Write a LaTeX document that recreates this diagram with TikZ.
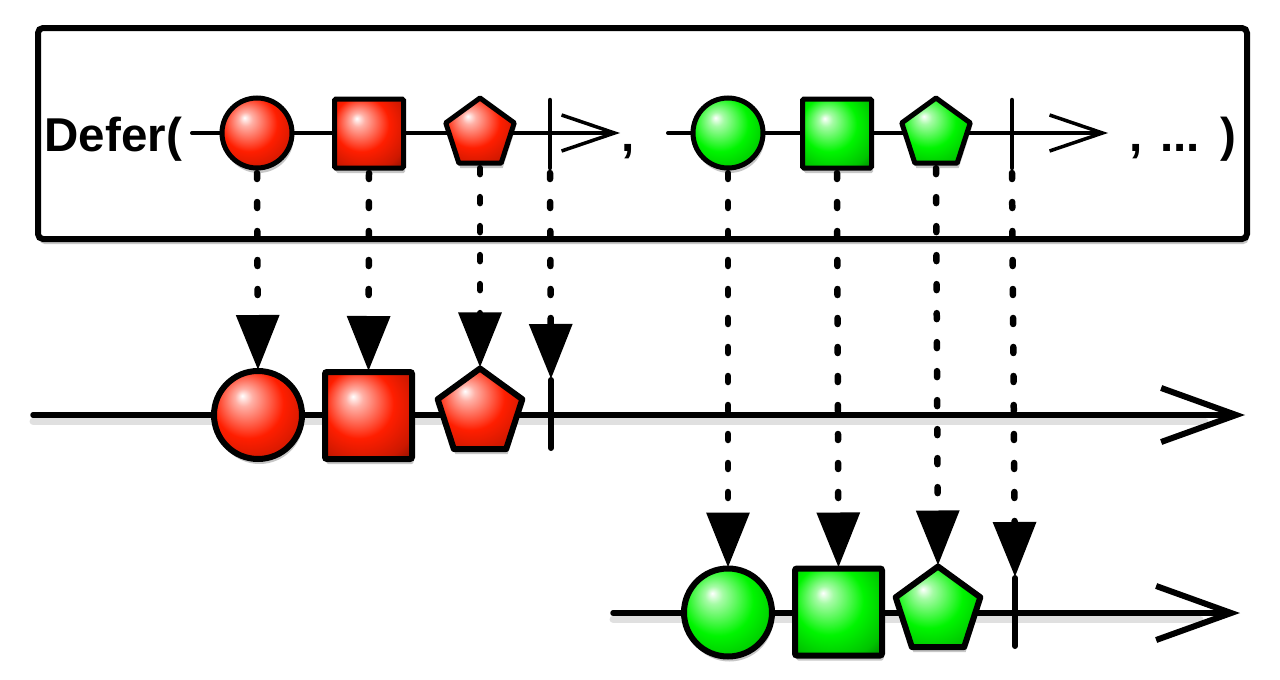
\documentclass[tikz,border=0pt]{standalone}
\usepackage{fontspec}
\setmainfont{Liberation Sans}
\usetikzlibrary{arrows.meta,shapes.geometric,shadows}
\definecolor{redc}{RGB}{255,30,0}
\definecolor{greenc}{RGB}{0,245,0}
\pgfdeclareradialshading{redball}{\pgfpoint{-9bp}{11bp}}{color(0bp)=(white); color(5bp)=(redc!35!white); color(20bp)=(redc); color(32bp)=(redc!80!black); color(44bp)=(redc!35!black); color(52bp)=(black)}
\pgfdeclareradialshading{greenball}{\pgfpoint{-9bp}{11bp}}{color(0bp)=(white); color(5bp)=(greenc!35!white); color(20bp)=(greenc); color(32bp)=(greenc!80!black); color(44bp)=(greenc!35!black); color(52bp)=(black)}
\tikzset{
  shadowed/.style={drop shadow={shadow xshift=1.5pt,shadow yshift=-5pt,opacity=.22,fill=black}},
  frame/.style={draw, line width=6pt, rounded corners=5pt, fill=white, minimum width=1209pt, minimum height=211pt, inner sep=0pt, shadowed},
  marble/.style={draw, inner sep=0pt, outer sep=0pt, shadowed},
  redm/.style={marble, shading=redball},
  greenm/.style={marble, shading=greenball},
  circs/.style={circle, line width=5pt, minimum size=70pt},
  sqrs/.style={rectangle, rounded corners=1.5pt, line width=5pt, minimum size=69pt},
  pents/.style={regular polygon, regular polygon sides=5, line join=round, line width=5pt, minimum size=72pt},
  circb/.style={circle, line width=6pt, minimum size=88pt},
  sqrb/.style={rectangle, rounded corners=2pt, line width=6pt, minimum size=87pt},
  pentb/.style={regular polygon, regular polygon sides=5, line join=round, line width=6pt, minimum size=89pt},
  tickn/.style={inner sep=0pt, outer sep=0pt, minimum width=0pt},
  tickline/.style={line width=4.5pt, line cap=round},
  tickbig/.style={line width=6pt, line cap=round},
  smallline/.style={line width=4pt, line cap=round, -{Straight Barb[length=53pt, width=36pt, line width=3.5pt]}},
  bigline/.style={line width=5.5pt, line cap=round, -{Straight Barb[length=75pt, width=54pt, line width=6pt]}},
  shadowline/.style={line width=7pt, draw=black, opacity=.12, line cap=round, transform canvas={yshift=-6pt}},
  dotarrow/.style={line width=6.5pt, line cap=round, dash pattern=on 6pt off 23pt, -{Triangle[length=55pt, width=42pt]}, shorten >=1pt},
  label/.style={font=\bfseries\fontsize{47.5}{52}\selectfont, inner sep=0pt, anchor=base west}
}
\begin{document}
\begin{tikzpicture}[x=1pt,y=-1pt]
\useasboundingbox (0,0) rectangle (1280,680);
% frame
\node[frame] (frame) at (642.5,133.5) {};
% top texts
\node[label] (defer) at (44.5,151) {Defer(};
\node[label] (comma) at (621,151) {,};
\node[label] (rest) at (1129,151) {,\hspace{0.38em}...\hspace{0.42em})};
% top timelines
\coordinate (rs) at (192,133);
\coordinate (re) at (620,133);
\coordinate (gs) at (668,133);
\coordinate (ge) at (1108,133);
\draw[smallline] (rs) -- (re);
\draw[smallline] (gs) -- (ge);
% top red
\node[redm, circs] (rc1) at (257,133) {};
\node[redm, sqrs] (rs1) at (369,133.5) {};
\node[redm, pents] (rp1) at (480,134) {};
\node[tickn, minimum height=68pt] (rt1) at (550,134) {};
\draw[tickline] (rt1.north) -- (rt1.south);
% top green
\node[greenm, circs] (gc1) at (728,133) {};
\node[greenm, sqrs] (gs1) at (837,133.5) {};
\node[greenm, pents] (gp1) at (936,134) {};
\node[tickn, minimum height=68pt] (gt1) at (1012,134) {};
\draw[tickline] (gt1.north) -- (gt1.south);
% middle timeline
\coordinate (ms) at (33,415);
\coordinate (me) at (1245,415);
\draw[shadowline] (ms) -- ([xshift=-40pt]me);
\draw[bigline] (ms) -- (me);
\node[redm, circb] (rc2) at (258,415) {};
\node[redm, sqrb] (rs2) at (368.5,415.5) {};
\node[redm, pentb] (rp2) at (480,413) {};
\node[tickn, minimum height=68pt] (rt2) at (551,414) {};
\draw[tickbig] (rt2.north) -- (rt2.south);
% bottom timeline
\coordinate (bs) at (613,613);
\coordinate (be) at (1240,613);
\draw[shadowline] (bs) -- ([xshift=-40pt]be);
\draw[bigline] (bs) -- (be);
\node[greenm, circb] (gc2) at (728,612.5) {};
\node[greenm, sqrb] (gs2) at (838.5,612) {};
\node[greenm, pentb] (gp2) at (938,611) {};
\node[tickn, minimum height=68pt] (gt2) at (1015,612) {};
\draw[tickbig] (gt2.north) -- (gt2.south);
% dotted arrows
\draw[dotarrow] ([yshift=-5pt]rc1.south) -- (rc2.north);
\draw[dotarrow] ([yshift=-5pt]rs1.south) -- (rs2.north);
\draw[dotarrow] ([yshift=-5pt]rp1.south) -- (rp2.north);
\draw[dotarrow] ([yshift=-5pt]rt1.south) -- (rt2.north);
\draw[dotarrow] ([yshift=-5pt]gc1.south) -- (gc2.north);
\draw[dotarrow] ([yshift=-5pt]gs1.south) -- (gs2.north);
\draw[dotarrow] ([yshift=-5pt]gp1.south) -- (gp2.north);
\draw[dotarrow] ([yshift=-5pt]gt1.south) -- (gt2.north);
\end{tikzpicture}
\end{document}
